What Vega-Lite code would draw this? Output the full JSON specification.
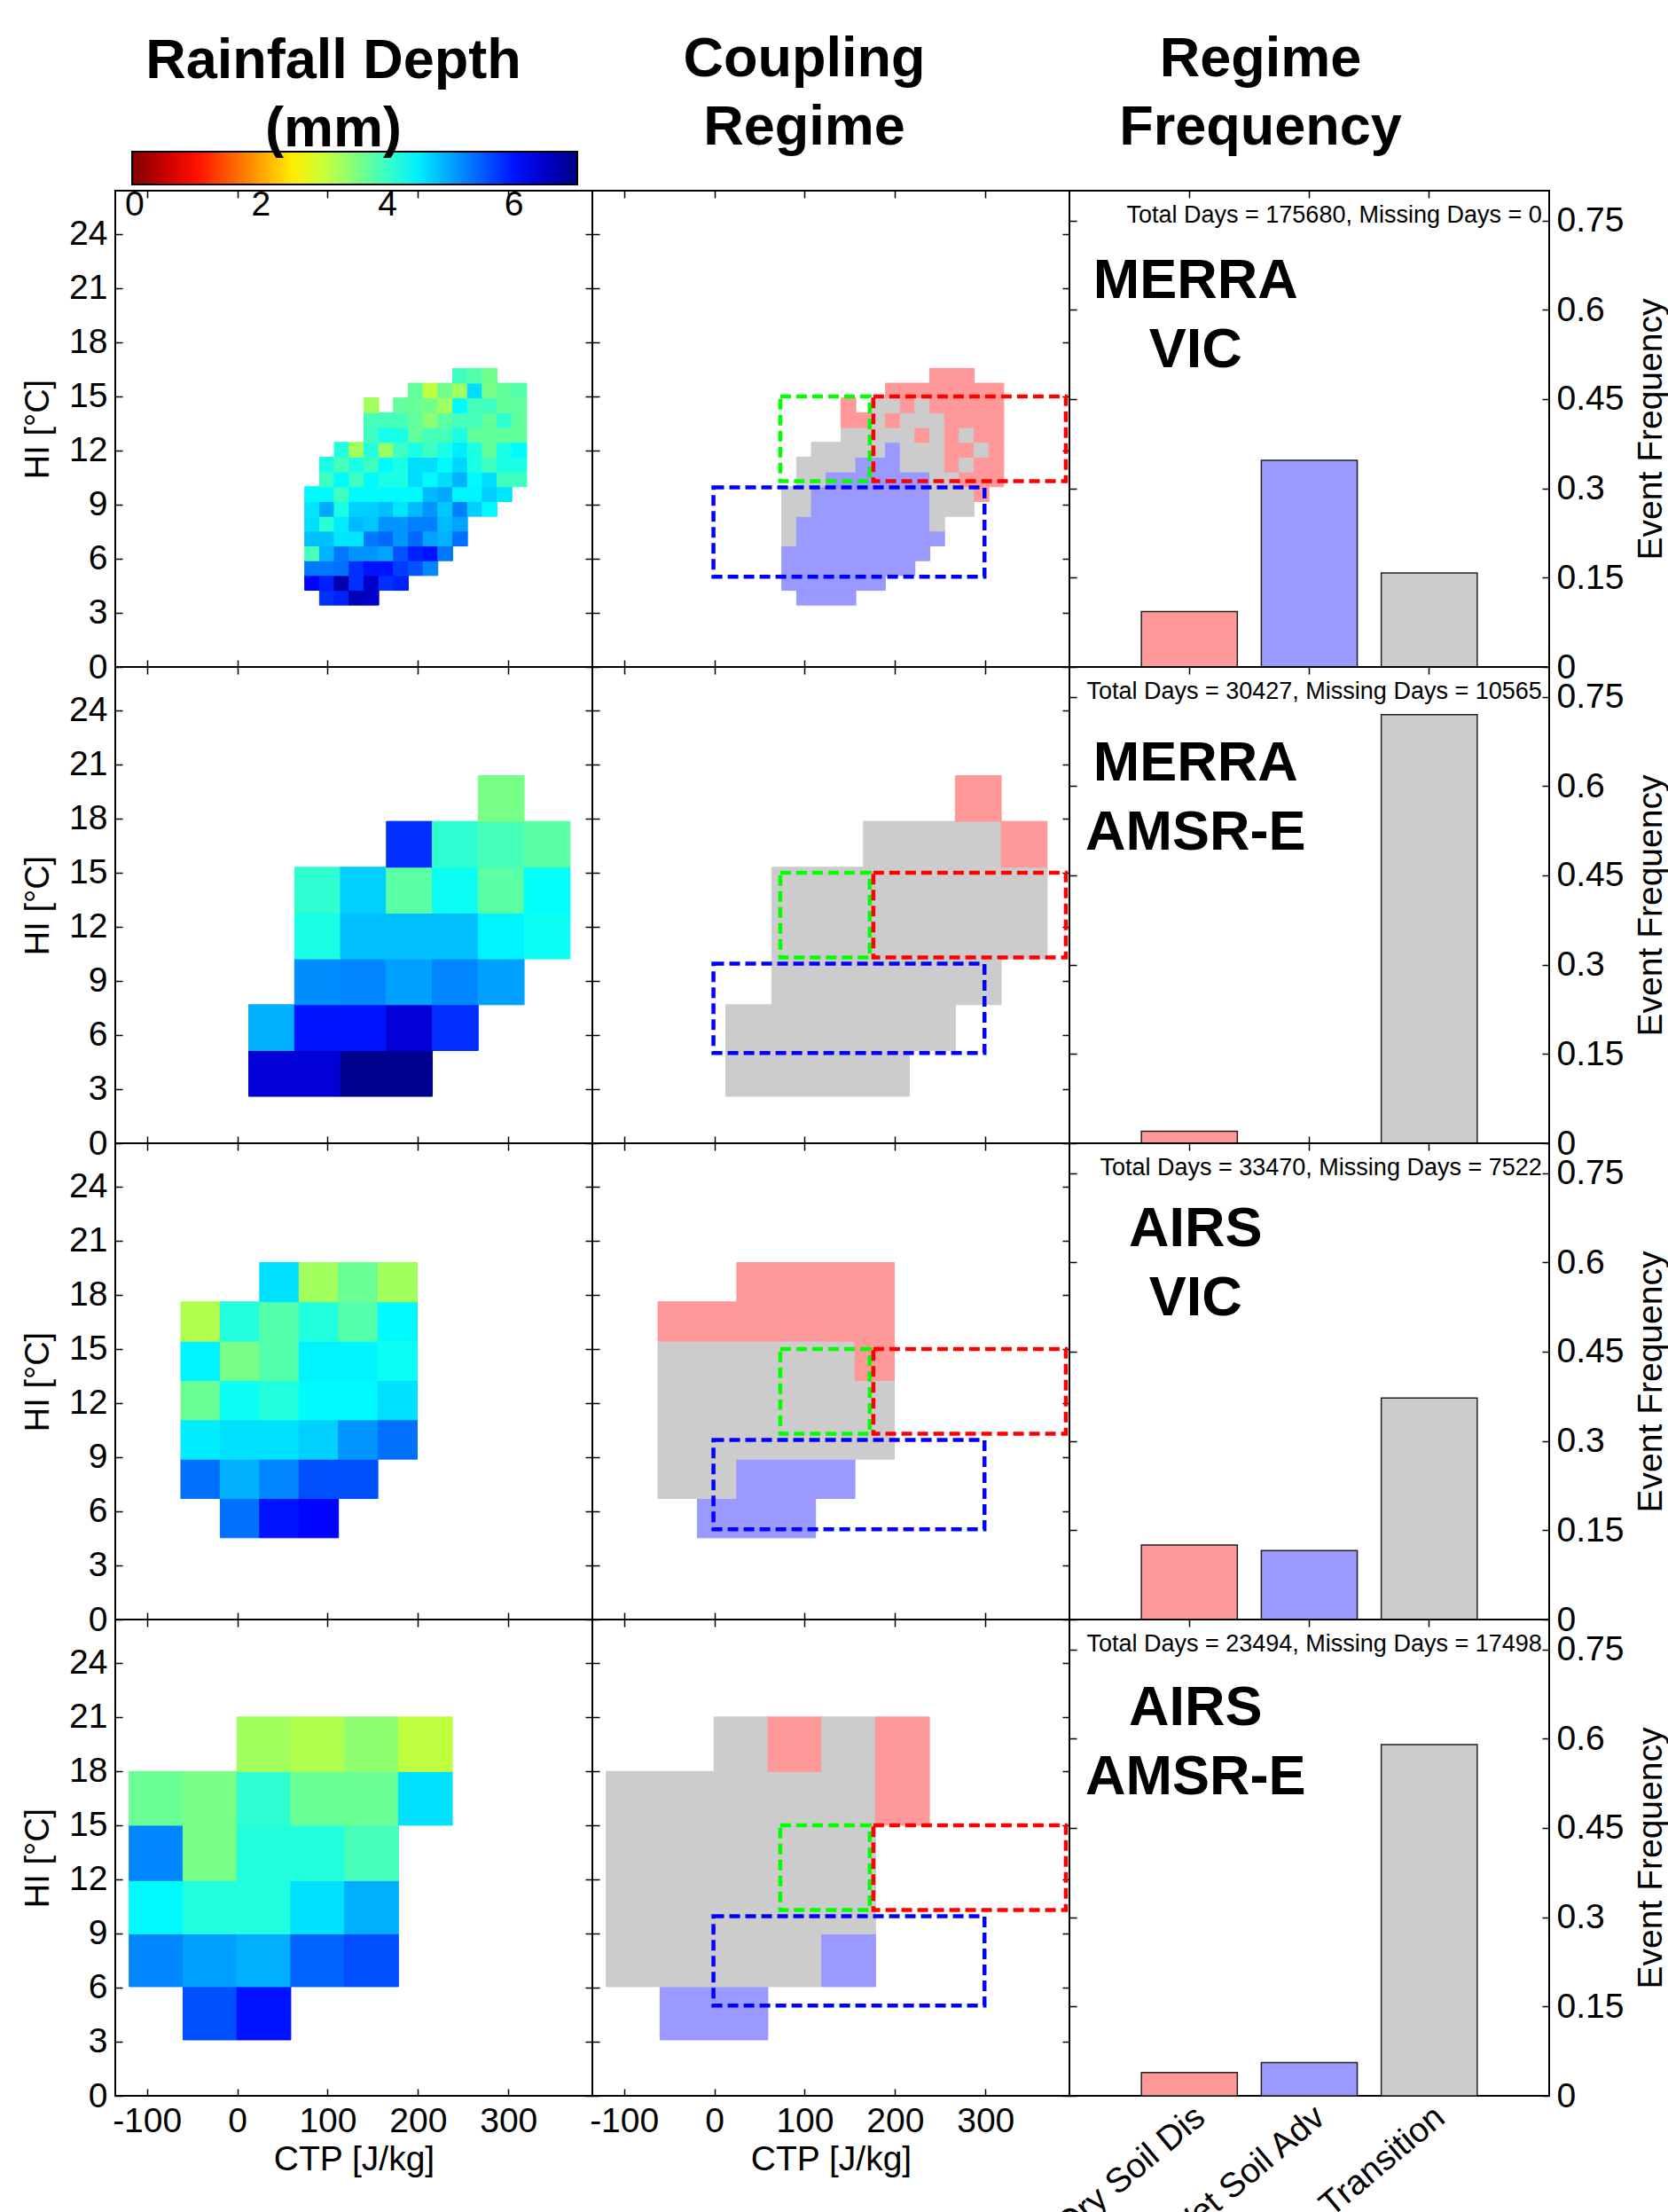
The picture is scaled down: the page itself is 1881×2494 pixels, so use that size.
{
"$schema":"https://vega.github.io/schema/vega-lite/v6.json",
"autosize":{"type":"none"},
"padding":{"left":130,"top":215,"right":1751,"bottom":2279},
"background":"white",
"config":{
 "font":"Liberation Sans",
 "view":{"stroke":"black","strokeWidth":2},
 "axis":{"domain":false,"grid":false,"tickColor":"black","tickWidth":1.5,"tickSize":-8,"labelFont":"Liberation Sans","labelFontSize":39,"labelColor":"black","labelPadding":17,"labelLimit":0,"titleFont":"Liberation Sans","titleFontSize":39,"titleFontWeight":"normal","titleColor":"black","zindex":1,"labelOverlap":false,"labelFlush":false,"labelBound":false},
 "title":{"font":"Liberation Sans","fontSize":63,"fontWeight":"bold","color":"black","lineHeight":77,"anchor":"middle","frame":"group","baseline":"bottom","offset":38}
},
"datasets":{
"boxes":[{"a":73,"b":172,"c":10.3,"d":15,"r":"Transition"},{"a":176,"b":389,"c":10.3,"d":15,"r":"Dry Soil Dis"},{"a":-1,"b":299,"c":5,"d":9.95,"r":"Wet Soil Adv"}],
"rain1":[
{"a":91.1,"b":107.4,"c":3.43,"d":4.25,"v":5.8},{"a":107.4,"b":123.8,"c":3.43,"d":4.25,"v":5.9},{"a":123.8,"b":140.2,"c":3.43,"d":4.25,"v":6.6},{"a":140.2,"b":156.6,"c":3.43,"d":4.25,"v":6.5},
{"a":74.7,"b":91.1,"c":4.25,"d":5.07,"v":6.1},{"a":91.1,"b":107.4,"c":4.25,"d":5.07,"v":5.9},{"a":107.4,"b":123.8,"c":4.25,"d":5.07,"v":6.7},{"a":123.8,"b":140.2,"c":4.25,"d":5.07,"v":5.8},{"a":140.2,"b":156.6,"c":4.25,"d":5.07,"v":6.5},{"a":156.6,"b":172.9,"c":4.25,"d":5.07,"v":5.8},{"a":172.9,"b":189.3,"c":4.25,"d":5.07,"v":5.9},
{"a":74.7,"b":91.1,"c":5.07,"d":5.89,"v":5.3},{"a":91.1,"b":107.4,"c":5.07,"d":5.89,"v":5.3},{"a":107.4,"b":123.8,"c":5.07,"d":5.89,"v":5.35},{"a":123.8,"b":140.2,"c":5.07,"d":5.89,"v":5.8},{"a":140.2,"b":156.6,"c":5.07,"d":5.89,"v":6.0},{"a":156.6,"b":172.9,"c":5.07,"d":5.89,"v":6.0},{"a":172.9,"b":189.3,"c":5.07,"d":5.89,"v":5.7},{"a":189.3,"b":205.7,"c":5.07,"d":5.89,"v":5.55},{"a":205.7,"b":222,"c":5.07,"d":5.89,"v":5.2},
{"a":74.7,"b":91.1,"c":5.89,"d":6.71,"v":3.9},{"a":91.1,"b":107.4,"c":5.89,"d":6.71,"v":4.9},{"a":107.4,"b":123.8,"c":5.89,"d":6.71,"v":5.3},{"a":123.8,"b":140.2,"c":5.89,"d":6.71,"v":5.1},{"a":140.2,"b":156.6,"c":5.89,"d":6.71,"v":5.1},{"a":156.6,"b":172.9,"c":5.89,"d":6.71,"v":5.0},{"a":172.9,"b":189.3,"c":5.89,"d":6.71,"v":5.55},{"a":189.3,"b":205.7,"c":5.89,"d":6.71,"v":5.9},{"a":205.7,"b":222,"c":5.89,"d":6.71,"v":6.0},{"a":222,"b":238.4,"c":5.89,"d":6.71,"v":5.3},
{"a":74.7,"b":91.1,"c":6.71,"d":7.53,"v":4.8},{"a":91.1,"b":107.4,"c":6.71,"d":7.53,"v":4.8},{"a":107.4,"b":123.8,"c":6.71,"d":7.53,"v":4.55},{"a":123.8,"b":140.2,"c":6.71,"d":7.53,"v":4.55},{"a":140.2,"b":156.6,"c":6.71,"d":7.53,"v":5.3},{"a":156.6,"b":172.9,"c":6.71,"d":7.53,"v":5.4},{"a":172.9,"b":189.3,"c":6.71,"d":7.53,"v":5.1},{"a":189.3,"b":205.7,"c":6.71,"d":7.53,"v":5.4},{"a":205.7,"b":222,"c":6.71,"d":7.53,"v":5.0},{"a":222,"b":238.4,"c":6.71,"d":7.53,"v":4.9},{"a":238.4,"b":254.8,"c":6.71,"d":7.53,"v":5.35},
{"a":74.7,"b":91.1,"c":7.53,"d":8.35,"v":4.6},{"a":91.1,"b":107.4,"c":7.53,"d":8.35,"v":4.1},{"a":107.4,"b":123.8,"c":7.53,"d":8.35,"v":4.5},{"a":123.8,"b":140.2,"c":7.53,"d":8.35,"v":4.85},{"a":140.2,"b":156.6,"c":7.53,"d":8.35,"v":4.75},{"a":156.6,"b":172.9,"c":7.53,"d":8.35,"v":5.1},{"a":172.9,"b":189.3,"c":7.53,"d":8.35,"v":5.1},{"a":189.3,"b":205.7,"c":7.53,"d":8.35,"v":5.25},{"a":205.7,"b":222,"c":7.53,"d":8.35,"v":5.25},{"a":222,"b":238.4,"c":7.53,"d":8.35,"v":4.85},{"a":238.4,"b":254.8,"c":7.53,"d":8.35,"v":5.0},
{"a":74.7,"b":91.1,"c":8.35,"d":9.17,"v":4.55},{"a":91.1,"b":107.4,"c":8.35,"d":9.17,"v":4.95},{"a":107.4,"b":123.8,"c":8.35,"d":9.17,"v":4.2},{"a":123.8,"b":140.2,"c":8.35,"d":9.17,"v":4.7},{"a":140.2,"b":156.6,"c":8.35,"d":9.17,"v":4.7},{"a":156.6,"b":172.9,"c":8.35,"d":9.17,"v":4.8},{"a":172.9,"b":189.3,"c":8.35,"d":9.17,"v":4.55},{"a":189.3,"b":205.7,"c":8.35,"d":9.17,"v":4.85},{"a":205.7,"b":222,"c":8.35,"d":9.17,"v":5.1},{"a":222,"b":238.4,"c":8.35,"d":9.17,"v":4.75},{"a":238.4,"b":254.8,"c":8.35,"d":9.17,"v":5.25},{"a":254.8,"b":271.1,"c":8.35,"d":9.17,"v":4.7},{"a":271.1,"b":287.5,"c":8.35,"d":9.17,"v":4.4},
{"a":74.7,"b":91.1,"c":9.17,"d":9.99,"v":4.4},{"a":91.1,"b":107.4,"c":9.17,"d":9.99,"v":4.4},{"a":107.4,"b":123.8,"c":9.17,"d":9.99,"v":3.95},{"a":123.8,"b":140.2,"c":9.17,"d":9.99,"v":4.4},{"a":140.2,"b":156.6,"c":9.17,"d":9.99,"v":4.4},{"a":156.6,"b":172.9,"c":9.17,"d":9.99,"v":4.4},{"a":172.9,"b":189.3,"c":9.17,"d":9.99,"v":4.4},{"a":189.3,"b":205.7,"c":9.17,"d":9.99,"v":4.4},{"a":205.7,"b":222,"c":9.17,"d":9.99,"v":4.85},{"a":222,"b":238.4,"c":9.17,"d":9.99,"v":4.95},{"a":238.4,"b":254.8,"c":9.17,"d":9.99,"v":4.45},{"a":254.8,"b":271.1,"c":9.17,"d":9.99,"v":4.45},{"a":271.1,"b":287.5,"c":9.17,"d":9.99,"v":4.7},{"a":287.5,"b":303.9,"c":9.17,"d":9.99,"v":4.55},
{"a":91.1,"b":107.4,"c":9.99,"d":10.81,"v":3.95},{"a":107.4,"b":123.8,"c":9.99,"d":10.81,"v":4.4},{"a":123.8,"b":140.2,"c":9.99,"d":10.81,"v":3.95},{"a":140.2,"b":156.6,"c":9.99,"d":10.81,"v":4.4},{"a":156.6,"b":172.9,"c":9.99,"d":10.81,"v":4.2},{"a":172.9,"b":189.3,"c":9.99,"d":10.81,"v":4.2},{"a":189.3,"b":205.7,"c":9.99,"d":10.81,"v":4.6},{"a":205.7,"b":222,"c":9.99,"d":10.81,"v":4.4},{"a":222,"b":238.4,"c":9.99,"d":10.81,"v":4.6},{"a":238.4,"b":254.8,"c":9.99,"d":10.81,"v":4.9},{"a":254.8,"b":271.1,"c":9.99,"d":10.81,"v":4.4},{"a":271.1,"b":287.5,"c":9.99,"d":10.81,"v":4.6},{"a":287.5,"b":303.9,"c":9.99,"d":10.81,"v":3.95},{"a":303.9,"b":320.3,"c":9.99,"d":10.81,"v":3.95},
{"a":91.1,"b":107.4,"c":10.81,"d":11.63,"v":4.2},{"a":107.4,"b":123.8,"c":10.81,"d":11.63,"v":3.9},{"a":123.8,"b":140.2,"c":10.81,"d":11.63,"v":4.2},{"a":140.2,"b":156.6,"c":10.81,"d":11.63,"v":3.95},{"a":156.6,"b":172.9,"c":10.81,"d":11.63,"v":4.4},{"a":172.9,"b":189.3,"c":10.81,"d":11.63,"v":4.2},{"a":189.3,"b":205.7,"c":10.81,"d":11.63,"v":4.6},{"a":205.7,"b":222,"c":10.81,"d":11.63,"v":4.6},{"a":222,"b":238.4,"c":10.81,"d":11.63,"v":4.4},{"a":238.4,"b":254.8,"c":10.81,"d":11.63,"v":4.65},{"a":254.8,"b":271.1,"c":10.81,"d":11.63,"v":4.2},{"a":271.1,"b":287.5,"c":10.81,"d":11.63,"v":3.95},{"a":287.5,"b":303.9,"c":10.81,"d":11.63,"v":4.2},{"a":303.9,"b":320.3,"c":10.81,"d":11.63,"v":4.2},
{"a":107.4,"b":123.8,"c":11.63,"d":12.45,"v":4.15},{"a":123.8,"b":140.2,"c":11.63,"d":12.45,"v":3.27},{"a":140.2,"b":156.6,"c":11.63,"d":12.45,"v":4.15},{"a":156.6,"b":172.9,"c":11.63,"d":12.45,"v":3.33},{"a":172.9,"b":189.3,"c":11.63,"d":12.45,"v":3.95},{"a":189.3,"b":205.7,"c":11.63,"d":12.45,"v":4.2},{"a":205.7,"b":222,"c":11.63,"d":12.45,"v":3.95},{"a":222,"b":238.4,"c":11.63,"d":12.45,"v":4.2},{"a":238.4,"b":254.8,"c":11.63,"d":12.45,"v":4.5},{"a":254.8,"b":271.1,"c":11.63,"d":12.45,"v":4.2},{"a":271.1,"b":287.5,"c":11.63,"d":12.45,"v":3.7},{"a":287.5,"b":303.9,"c":11.63,"d":12.45,"v":4.2},{"a":303.9,"b":320.3,"c":11.63,"d":12.45,"v":4.4},
{"a":140.2,"b":156.6,"c":12.45,"d":13.27,"v":3.95},{"a":156.6,"b":172.9,"c":12.45,"d":13.27,"v":4.25},{"a":172.9,"b":189.3,"c":12.45,"d":13.27,"v":4.2},{"a":189.3,"b":205.7,"c":12.45,"d":13.27,"v":3.7},{"a":205.7,"b":222,"c":12.45,"d":13.27,"v":3.9},{"a":222,"b":238.4,"c":12.45,"d":13.27,"v":3.9},{"a":238.4,"b":254.8,"c":12.45,"d":13.27,"v":4.2},{"a":254.8,"b":271.1,"c":12.45,"d":13.27,"v":3.7},{"a":271.1,"b":287.5,"c":12.45,"d":13.27,"v":3.7},{"a":287.5,"b":303.9,"c":12.45,"d":13.27,"v":3.7},{"a":303.9,"b":320.3,"c":12.45,"d":13.27,"v":3.7},
{"a":140.2,"b":156.6,"c":13.27,"d":14.09,"v":3.9},{"a":156.6,"b":172.9,"c":13.27,"d":14.09,"v":3.9},{"a":172.9,"b":189.3,"c":13.27,"d":14.09,"v":3.9},{"a":189.3,"b":205.7,"c":13.27,"d":14.09,"v":3.7},{"a":205.7,"b":222,"c":13.27,"d":14.09,"v":3.4},{"a":222,"b":238.4,"c":13.27,"d":14.09,"v":3.75},{"a":238.4,"b":254.8,"c":13.27,"d":14.09,"v":3.9},{"a":254.8,"b":271.1,"c":13.27,"d":14.09,"v":3.9},{"a":271.1,"b":287.5,"c":13.27,"d":14.09,"v":3.7},{"a":287.5,"b":303.9,"c":13.27,"d":14.09,"v":4.05},{"a":303.9,"b":320.3,"c":13.27,"d":14.09,"v":3.7},
{"a":140.2,"b":156.6,"c":14.09,"d":14.91,"v":3.27},{"a":172.9,"b":189.3,"c":14.09,"d":14.91,"v":3.7},{"a":189.3,"b":205.7,"c":14.09,"d":14.91,"v":3.65},{"a":205.7,"b":222,"c":14.09,"d":14.91,"v":3.6},{"a":222,"b":238.4,"c":14.09,"d":14.91,"v":3.27},{"a":238.4,"b":254.8,"c":14.09,"d":14.91,"v":4.4},{"a":254.8,"b":271.1,"c":14.09,"d":14.91,"v":3.9},{"a":271.1,"b":287.5,"c":14.09,"d":14.91,"v":3.95},{"a":287.5,"b":303.9,"c":14.09,"d":14.91,"v":3.7},{"a":303.9,"b":320.3,"c":14.09,"d":14.91,"v":3.7},
{"a":189.3,"b":205.7,"c":14.91,"d":15.73,"v":3.7},{"a":205.7,"b":222,"c":14.91,"d":15.73,"v":3.06},{"a":222,"b":238.4,"c":14.91,"d":15.73,"v":3.6},{"a":238.4,"b":254.8,"c":14.91,"d":15.73,"v":3.27},{"a":254.8,"b":271.1,"c":14.91,"d":15.73,"v":4.6},{"a":271.1,"b":287.5,"c":14.91,"d":15.73,"v":3.55},{"a":287.5,"b":303.9,"c":14.91,"d":15.73,"v":3.7},{"a":303.9,"b":320.3,"c":14.91,"d":15.73,"v":3.8},
{"a":238.4,"b":254.8,"c":15.73,"d":16.55,"v":3.95},{"a":254.8,"b":271.1,"c":15.73,"d":16.55,"v":3.8},{"a":271.1,"b":287.5,"c":15.73,"d":16.55,"v":3.6}
],
"reg1":[
{"a":91.1,"b":156.6,"c":3.43,"d":4.25,"r":"Wet Soil Adv"},
{"a":74.7,"b":189.3,"c":4.25,"d":5.07,"r":"Wet Soil Adv"},
{"a":74.7,"b":222,"c":5.07,"d":5.89,"r":"Wet Soil Adv"},
{"a":74.7,"b":238.4,"c":5.89,"d":6.71,"r":"Wet Soil Adv"},
{"a":74.7,"b":91.1,"c":6.71,"d":7.53,"r":"Transition"},{"a":91.1,"b":254.8,"c":6.71,"d":7.53,"r":"Wet Soil Adv"},
{"a":74.7,"b":91.1,"c":7.53,"d":8.35,"r":"Transition"},{"a":91.1,"b":238.4,"c":7.53,"d":8.35,"r":"Wet Soil Adv"},{"a":238.4,"b":254.8,"c":7.53,"d":8.35,"r":"Transition"},
{"a":74.7,"b":107.4,"c":8.35,"d":9.17,"r":"Transition"},{"a":107.4,"b":238.4,"c":8.35,"d":9.17,"r":"Wet Soil Adv"},{"a":238.4,"b":287.5,"c":8.35,"d":9.17,"r":"Transition"},
{"a":74.7,"b":107.4,"c":9.17,"d":9.99,"r":"Transition"},{"a":107.4,"b":238.4,"c":9.17,"d":9.99,"r":"Wet Soil Adv"},{"a":238.4,"b":287.5,"c":9.17,"d":9.99,"r":"Transition"},{"a":287.5,"b":303.9,"c":9.17,"d":9.99,"r":"Dry Soil Dis"},
{"a":91.1,"b":123.8,"c":9.99,"d":10.81,"r":"Transition"},{"a":123.8,"b":238.4,"c":9.99,"d":10.81,"r":"Wet Soil Adv"},{"a":238.4,"b":271.1,"c":9.99,"d":10.81,"r":"Transition"},{"a":271.1,"b":320.3,"c":9.99,"d":10.81,"r":"Dry Soil Dis"},
{"a":91.1,"b":156.6,"c":10.81,"d":11.63,"r":"Transition"},{"a":156.6,"b":205.7,"c":10.81,"d":11.63,"r":"Wet Soil Adv"},{"a":205.7,"b":254.8,"c":10.81,"d":11.63,"r":"Transition"},{"a":254.8,"b":271.1,"c":10.81,"d":11.63,"r":"Dry Soil Dis"},{"a":271.1,"b":287.5,"c":10.81,"d":11.63,"r":"Transition"},{"a":287.5,"b":320.3,"c":10.81,"d":11.63,"r":"Dry Soil Dis"},
{"a":107.4,"b":189.3,"c":11.63,"d":12.45,"r":"Transition"},{"a":189.3,"b":205.7,"c":11.63,"d":12.45,"r":"Wet Soil Adv"},{"a":205.7,"b":254.8,"c":11.63,"d":12.45,"r":"Transition"},{"a":254.8,"b":287.5,"c":11.63,"d":12.45,"r":"Dry Soil Dis"},{"a":287.5,"b":303.9,"c":11.63,"d":12.45,"r":"Transition"},{"a":303.9,"b":320.3,"c":11.63,"d":12.45,"r":"Dry Soil Dis"},
{"a":140.2,"b":222,"c":12.45,"d":13.27,"r":"Transition"},{"a":222,"b":238.4,"c":12.45,"d":13.27,"r":"Dry Soil Dis"},{"a":238.4,"b":254.8,"c":12.45,"d":13.27,"r":"Transition"},{"a":254.8,"b":271.1,"c":12.45,"d":13.27,"r":"Dry Soil Dis"},{"a":271.1,"b":287.5,"c":12.45,"d":13.27,"r":"Transition"},{"a":287.5,"b":320.3,"c":12.45,"d":13.27,"r":"Dry Soil Dis"},
{"a":140.2,"b":172.9,"c":13.27,"d":14.09,"r":"Dry Soil Dis"},{"a":172.9,"b":189.3,"c":13.27,"d":14.09,"r":"Transition"},{"a":189.3,"b":205.7,"c":13.27,"d":14.09,"r":"Dry Soil Dis"},{"a":205.7,"b":254.8,"c":13.27,"d":14.09,"r":"Transition"},{"a":254.8,"b":320.3,"c":13.27,"d":14.09,"r":"Dry Soil Dis"},
{"a":140.2,"b":156.6,"c":14.09,"d":14.91,"r":"Dry Soil Dis"},{"a":172.9,"b":205.7,"c":14.09,"d":14.91,"r":"Transition"},{"a":205.7,"b":222,"c":14.09,"d":14.91,"r":"Dry Soil Dis"},{"a":222,"b":238.4,"c":14.09,"d":14.91,"r":"Transition"},{"a":238.4,"b":320.3,"c":14.09,"d":14.91,"r":"Dry Soil Dis"},
{"a":189.3,"b":320.3,"c":14.91,"d":15.73,"r":"Dry Soil Dis"},
{"a":238.4,"b":287.5,"c":15.73,"d":16.55,"r":"Dry Soil Dis"}
],
"rain2":[
{"a":12.7,"b":63.5,"c":2.6,"d":5.14,"v":6.4},{"a":63.5,"b":114.3,"c":2.6,"d":5.14,"v":6.4},{"a":114.3,"b":165.1,"c":2.6,"d":5.14,"v":6.9},{"a":165.1,"b":215.9,"c":2.6,"d":5.14,"v":6.9},
{"a":12.7,"b":63.5,"c":5.14,"d":7.68,"v":4.92},{"a":63.5,"b":114.3,"c":5.14,"d":7.68,"v":6.0},{"a":114.3,"b":165.1,"c":5.14,"d":7.68,"v":6.0},{"a":165.1,"b":215.9,"c":5.14,"d":7.68,"v":6.4},{"a":215.9,"b":266.7,"c":5.14,"d":7.68,"v":5.8},
{"a":63.5,"b":114.3,"c":7.68,"d":10.22,"v":5.15},{"a":114.3,"b":165.1,"c":7.68,"d":10.22,"v":5.2},{"a":165.1,"b":215.9,"c":7.68,"d":10.22,"v":5.03},{"a":215.9,"b":266.7,"c":7.68,"d":10.22,"v":5.2},{"a":266.7,"b":317.5,"c":7.68,"d":10.22,"v":5.03},
{"a":63.5,"b":114.3,"c":10.22,"d":12.76,"v":4.2},{"a":114.3,"b":165.1,"c":10.22,"d":12.76,"v":4.81},{"a":165.1,"b":215.9,"c":10.22,"d":12.76,"v":4.81},{"a":215.9,"b":266.7,"c":10.22,"d":12.76,"v":4.81},{"a":266.7,"b":317.5,"c":10.22,"d":12.76,"v":4.45},{"a":317.5,"b":368.3,"c":10.22,"d":12.76,"v":4.3},
{"a":63.5,"b":114.3,"c":12.76,"d":15.3,"v":4.05},{"a":114.3,"b":165.1,"c":12.76,"d":15.3,"v":4.7},{"a":165.1,"b":215.9,"c":12.76,"d":15.3,"v":3.75},{"a":215.9,"b":266.7,"c":12.76,"d":15.3,"v":4.3},{"a":266.7,"b":317.5,"c":12.76,"d":15.3,"v":3.75},{"a":317.5,"b":368.3,"c":12.76,"d":15.3,"v":4.35},
{"a":165.1,"b":215.9,"c":15.3,"d":17.84,"v":5.8},{"a":215.9,"b":266.7,"c":15.3,"d":17.84,"v":4.05},{"a":266.7,"b":317.5,"c":15.3,"d":17.84,"v":3.9},{"a":317.5,"b":368.3,"c":15.3,"d":17.84,"v":3.75},
{"a":266.7,"b":317.5,"c":17.84,"d":20.38,"v":3.55}
],
"reg2":[
{"a":12.7,"b":215.9,"c":2.6,"d":5.14,"r":"Transition"},
{"a":12.7,"b":266.7,"c":5.14,"d":7.68,"r":"Transition"},
{"a":63.5,"b":317.5,"c":7.68,"d":10.22,"r":"Transition"},
{"a":63.5,"b":368.3,"c":10.22,"d":12.76,"r":"Transition"},
{"a":63.5,"b":368.3,"c":12.76,"d":15.3,"r":"Transition"},
{"a":165.1,"b":317.5,"c":15.3,"d":17.84,"r":"Transition"},{"a":317.5,"b":368.3,"c":15.3,"d":17.84,"r":"Dry Soil Dis"},
{"a":266.7,"b":317.5,"c":17.84,"d":20.38,"r":"Dry Soil Dis"}
],
"rain3":[
{"a":-18.8,"b":24.8,"c":4.53,"d":6.71,"v":5.35},{"a":24.8,"b":68.4,"c":4.53,"d":6.71,"v":6.0},{"a":68.4,"b":112,"c":4.53,"d":6.71,"v":6.1},
{"a":-62.4,"b":-18.8,"c":6.71,"d":8.89,"v":5.35},{"a":-18.8,"b":24.8,"c":6.71,"d":8.89,"v":4.92},{"a":24.8,"b":68.4,"c":6.71,"d":8.89,"v":5.2},{"a":68.4,"b":112,"c":6.71,"d":8.89,"v":5.58},{"a":112,"b":155.6,"c":6.71,"d":8.89,"v":5.58},
{"a":-62.4,"b":-18.8,"c":8.89,"d":11.07,"v":4.5},{"a":-18.8,"b":24.8,"c":8.89,"d":11.07,"v":4.59},{"a":24.8,"b":68.4,"c":8.89,"d":11.07,"v":4.59},{"a":68.4,"b":112,"c":8.89,"d":11.07,"v":4.7},{"a":112,"b":155.6,"c":8.89,"d":11.07,"v":5.1},{"a":155.6,"b":199.2,"c":8.89,"d":11.07,"v":5.35},
{"a":-62.4,"b":-18.8,"c":11.07,"d":13.25,"v":3.65},{"a":-18.8,"b":24.8,"c":11.07,"d":13.25,"v":4.3},{"a":24.8,"b":68.4,"c":11.07,"d":13.25,"v":4.15},{"a":68.4,"b":112,"c":11.07,"d":13.25,"v":4.4},{"a":112,"b":155.6,"c":11.07,"d":13.25,"v":4.4},{"a":155.6,"b":199.2,"c":11.07,"d":13.25,"v":4.59},
{"a":-62.4,"b":-18.8,"c":13.25,"d":15.43,"v":4.45},{"a":-18.8,"b":24.8,"c":13.25,"d":15.43,"v":3.55},{"a":24.8,"b":68.4,"c":13.25,"d":15.43,"v":3.8},{"a":68.4,"b":112,"c":13.25,"d":15.43,"v":4.45},{"a":112,"b":155.6,"c":13.25,"d":15.43,"v":4.45},{"a":155.6,"b":199.2,"c":13.25,"d":15.43,"v":4.3},
{"a":-62.4,"b":-18.8,"c":15.43,"d":17.61,"v":3.17},{"a":-18.8,"b":24.8,"c":15.43,"d":17.61,"v":4.15},{"a":24.8,"b":68.4,"c":15.43,"d":17.61,"v":3.8},{"a":68.4,"b":112,"c":15.43,"d":17.61,"v":4.15},{"a":112,"b":155.6,"c":15.43,"d":17.61,"v":3.8},{"a":155.6,"b":199.2,"c":15.43,"d":17.61,"v":4.4},
{"a":24.8,"b":68.4,"c":17.61,"d":19.79,"v":4.59},{"a":68.4,"b":112,"c":17.61,"d":19.79,"v":3.27},{"a":112,"b":155.6,"c":17.61,"d":19.79,"v":3.65},{"a":155.6,"b":199.2,"c":17.61,"d":19.79,"v":3.27}
],
"reg3":[
{"a":-18.8,"b":112,"c":4.53,"d":6.71,"r":"Wet Soil Adv"},
{"a":-62.4,"b":24.8,"c":6.71,"d":8.89,"r":"Transition"},{"a":24.8,"b":155.6,"c":6.71,"d":8.89,"r":"Wet Soil Adv"},
{"a":-62.4,"b":199.2,"c":8.89,"d":11.07,"r":"Transition"},
{"a":-62.4,"b":199.2,"c":11.07,"d":13.25,"r":"Transition"},
{"a":-62.4,"b":155.6,"c":13.25,"d":15.43,"r":"Transition"},{"a":155.6,"b":199.2,"c":13.25,"d":15.43,"r":"Dry Soil Dis"},
{"a":-62.4,"b":199.2,"c":15.43,"d":17.61,"r":"Dry Soil Dis"},
{"a":24.8,"b":199.2,"c":17.61,"d":19.79,"r":"Dry Soil Dis"}
],
"rain4":[
{"a":-60,"b":-0.4,"c":3.1,"d":6.05,"v":5.58},{"a":-0.4,"b":59.2,"c":3.1,"d":6.05,"v":6.0},
{"a":-119.6,"b":-60,"c":6.05,"d":8.98,"v":5.2},{"a":-60,"b":-0.4,"c":6.05,"d":8.98,"v":5.03},{"a":-0.4,"b":59.2,"c":6.05,"d":8.98,"v":4.92},{"a":59.2,"b":118.8,"c":6.05,"d":8.98,"v":5.45},{"a":118.8,"b":178.4,"c":6.05,"d":8.98,"v":5.58},
{"a":-119.6,"b":-60,"c":8.98,"d":11.93,"v":4.4},{"a":-60,"b":-0.4,"c":8.98,"d":11.93,"v":4.15},{"a":-0.4,"b":59.2,"c":8.98,"d":11.93,"v":4.15},{"a":59.2,"b":118.8,"c":8.98,"d":11.93,"v":4.59},{"a":118.8,"b":178.4,"c":8.98,"d":11.93,"v":4.92},
{"a":-119.6,"b":-60,"c":11.93,"d":15.0,"v":5.2},{"a":-60,"b":-0.4,"c":11.93,"d":15.0,"v":3.55},{"a":-0.4,"b":59.2,"c":11.93,"d":15.0,"v":4.15},{"a":59.2,"b":118.8,"c":11.93,"d":15.0,"v":4.15},{"a":118.8,"b":178.4,"c":11.93,"d":15.0,"v":3.9},
{"a":-119.6,"b":-60,"c":15.0,"d":17.98,"v":3.65},{"a":-60,"b":-0.4,"c":15.0,"d":17.98,"v":3.55},{"a":-0.4,"b":59.2,"c":15.0,"d":17.98,"v":4.05},{"a":59.2,"b":118.8,"c":15.0,"d":17.98,"v":3.65},{"a":118.8,"b":178.4,"c":15.0,"d":17.98,"v":3.65},{"a":178.4,"b":238,"c":15.0,"d":17.98,"v":4.59},
{"a":-0.4,"b":59.2,"c":17.98,"d":21.0,"v":3.27},{"a":59.2,"b":118.8,"c":17.98,"d":21.0,"v":3.17},{"a":118.8,"b":178.4,"c":17.98,"d":21.0,"v":3.39},{"a":178.4,"b":238,"c":17.98,"d":21.0,"v":3.06}
],
"reg4":[
{"a":-60,"b":59.2,"c":3.1,"d":6.05,"r":"Wet Soil Adv"},
{"a":-119.6,"b":118.8,"c":6.05,"d":8.98,"r":"Transition"},{"a":118.8,"b":178.4,"c":6.05,"d":8.98,"r":"Wet Soil Adv"},
{"a":-119.6,"b":178.4,"c":8.98,"d":11.93,"r":"Transition"},
{"a":-119.6,"b":178.4,"c":11.93,"d":15.0,"r":"Transition"},
{"a":-119.6,"b":178.4,"c":15.0,"d":17.98,"r":"Transition"},{"a":178.4,"b":238,"c":15.0,"d":17.98,"r":"Dry Soil Dis"},
{"a":-0.4,"b":59.2,"c":17.98,"d":21.0,"r":"Transition"},{"a":59.2,"b":118.8,"c":17.98,"d":21.0,"r":"Dry Soil Dis"},{"a":118.8,"b":178.4,"c":17.98,"d":21.0,"r":"Transition"},{"a":178.4,"b":238,"c":17.98,"d":21.0,"r":"Dry Soil Dis"}
],
"bars1":[{"cat":"Dry Soil Dis","f":0.093},{"cat":"Wet Soil Adv","f":0.347},{"cat":"Transition","f":0.158}],
"bars2":[{"cat":"Dry Soil Dis","f":0.02},{"cat":"Wet Soil Adv","f":0},{"cat":"Transition","f":0.72}],
"bars3":[{"cat":"Dry Soil Dis","f":0.125},{"cat":"Wet Soil Adv","f":0.116},{"cat":"Transition","f":0.372}],
"bars4":[{"cat":"Dry Soil Dis","f":0.039},{"cat":"Wet Soil Adv","f":0.056},{"cat":"Transition","f":0.59}],
"lab1":[{"cat":"Dry Soil Dis","f":0.694,"t":"MERRA\nVIC"}],
"lab2":[{"cat":"Dry Soil Dis","f":0.684,"t":"MERRA\nAMSR-E"}],
"lab3":[{"cat":"Dry Soil Dis","f":0.702,"t":"AIRS\nVIC"}],
"lab4":[{"cat":"Dry Soil Dis","f":0.697,"t":"AIRS\nAMSR-E"}],
"days1":[{"cat":"Transition","f":0.759,"t":"Total Days = 175680, Missing Days = 0"}],
"days2":[{"cat":"Transition","f":0.759,"t":"Total Days = 30427, Missing Days = 10565"}],
"days3":[{"cat":"Transition","f":0.759,"t":"Total Days = 33470, Missing Days = 7522"}],
"days4":[{"cat":"Transition","f":0.759,"t":"Total Days = 23494, Missing Days = 17498"}]
},
"columns":3,
"spacing":0,
"bounds":"flush",
"resolve":{"scale":{"color":"independent","stroke":"independent"}},
"concat":[
 {"width":538,"height":537,"title":{"text":["Rainfall Depth","(mm)"],"dx":-23,"dy":45},
  "layer":[
   {"data":{"name":"rain1"},"mark":{"type":"rect","strokeWidth":1},
    "encoding":{
     "x":{"field":"a","type":"quantitative","scale":{"domain":[-135,393],"nice":false,"zero":false},"axis":{"orient":"bottom","values":[-100,0,100,200,300],"labels":false,"title":null}},
     "x2":{"field":"b"},
     "y":{"field":"c","type":"quantitative","scale":{"domain":[0,26.4],"nice":false,"zero":false},"axis":{"orient":"left","values":[0,3,6,9,12,15,18,21,24],"title":"HI [°C]","titleFontSize":38,"titlePadding":15}},
     "y2":{"field":"d"},
     "color":{"field":"v","type":"quantitative","scale":{"domain":[-0.04,0.875,2.625,4.375,6.125,7],"range":["#800000","#ff0000","#ffff00","#00ffff","#0000ff","#000080"],"interpolate":"rgb"},
      "legend":{"type":"gradient","orient":"none","legendX":19,"legendY":-44,"direction":"horizontal","gradientLength":502,"gradientThickness":37,"title":null,"values":[0,2,4,6],"format":"d","labelFontSize":39,"labelFont":"Liberation Sans","labelColor":"black","gradientStrokeColor":"black","gradientStrokeWidth":2,"labelOffset":4,"labelAlign":"center","labelOverlap":false,"padding":0}},
     "stroke":{"field":"v","type":"quantitative","scale":{"domain":[-0.041,0.875,2.625,4.375,6.125,7.001],"range":["#800000","#ff0000","#ffff00","#00ffff","#0000ff","#000080"],"interpolate":"rgb"},"legend":null}
    }},
   {"data":{"name":"boxes"},"mark":{"type":"rect","opacity":0},
    "encoding":{
     "x":{"field":"a","type":"quantitative","axis":{"orient":"top","values":[-100,0,100,200,300],"labels":false,"title":null}},
     "x2":{"field":"b"},
     "y":{"field":"c","type":"quantitative","axis":{"orient":"right","values":[0,3,6,9,12,15,18,21,24],"labels":false,"title":null}},
     "y2":{"field":"d"}
    }}
  ],
  "resolve":{"axis":{"x":"independent","y":"independent"}}},
 {"width":538,"height":537,"title":{"text":["Coupling","Regime"],"dx":-30},
  "layer":[
   {"data":{"name":"reg1"},"mark":{"type":"rect","strokeWidth":1},
    "encoding":{
     "x":{"field":"a","type":"quantitative","scale":{"domain":[-135,393],"nice":false,"zero":false},"axis":{"orient":"bottom","values":[-100,0,100,200,300],"labels":false,"title":null}},
     "x2":{"field":"b"},
     "y":{"field":"c","type":"quantitative","scale":{"domain":[0,26.4],"nice":false,"zero":false},"axis":{"orient":"left","values":[0,3,6,9,12,15,18,21,24],"labels":false,"title":null}},
     "y2":{"field":"d"},
     "color":{"field":"r","type":"nominal","scale":{"domain":["Dry Soil Dis","Wet Soil Adv","Transition"],"range":["#ff9999","#9999ff","#cccccc"]},"legend":null},
     "stroke":{"field":"r","type":"nominal","scale":{"domain":["Dry Soil Dis","Wet Soil Adv","Transition"],"range":["#ff9999","#9999ff","#cccccc"]},"legend":null}
    }},
   {"data":{"name":"boxes"},"mark":{"type":"rect","filled":false,"strokeWidth":4.5,"strokeDash":[12,6]},
    "encoding":{
     "x":{"field":"a","type":"quantitative","axis":{"orient":"top","values":[-100,0,100,200,300],"labels":false,"title":null}},
     "x2":{"field":"b"},
     "y":{"field":"c","type":"quantitative","axis":{"orient":"right","values":[0,3,6,9,12,15,18,21,24],"labels":false,"title":null}},
     "y2":{"field":"d"},
     "stroke":{"field":"r","type":"nominal","scale":{"domain":["Dry Soil Dis","Wet Soil Adv","Transition"],"range":["#ff0000","#0000ff","#00ff00"]},"legend":null}
    }}
  ],
  "resolve":{"scale":{"stroke":"independent"},"axis":{"x":"independent","y":"independent"}}},
 {"width":541,"height":537,"title":{"text":["Regime","Frequency"],"dx":-55},
  "layer":[
   {"data":{"name":"bars1"},"mark":{"type":"bar","stroke":"#222222","strokeWidth":1.5},
    "encoding":{
     "x":{"field":"cat","type":"nominal","scale":{"domain":["Dry Soil Dis","Wet Soil Adv","Transition"],"paddingInner":0.2,"paddingOuter":0.6},"axis":{"orient":"bottom","labels":false,"title":null}},
     "y":{"field":"f","type":"quantitative","scale":{"domain":[0,0.8],"nice":false,"zero":true},"axis":{"orient":"right","values":[0,0.15,0.3,0.45,0.6,0.75],"format":".2~f","title":"Event Frequency","titleAngle":270,"titlePadding":51,"labelPadding":16}},
     "color":{"field":"cat","type":"nominal","scale":{"domain":["Dry Soil Dis","Wet Soil Adv","Transition"],"range":["#ff9999","#9999ff","#cccccc"]},"legend":null}
    }},
   {"data":{"name":"lab1"},"mark":{"type":"text","fontSize":63,"fontWeight":"bold","lineBreak":"\n","lineHeight":78,"align":"center","baseline":"top","dx":7,"color":"black"},
    "encoding":{
     "x":{"field":"cat","type":"nominal","axis":{"orient":"top","labels":false,"title":null}},
     "y":{"field":"f","type":"quantitative","axis":{"orient":"left","values":[0,0.15,0.3,0.45,0.6,0.75],"labels":false,"title":null}},
     "text":{"field":"t"}
    }},
   {"data":{"name":"days1"},"mark":{"type":"text","fontSize":27,"align":"right","baseline":"middle","dx":127,"color":"black"},
    "encoding":{
     "x":{"field":"cat","type":"nominal","axis":null},
     "y":{"field":"f","type":"quantitative","axis":null},
     "text":{"field":"t"}
    }}
  ],
  "resolve":{"axis":{"x":"independent","y":"independent"}}},
 {"width":538,"height":537,
  "layer":[
   {"data":{"name":"rain2"},"mark":{"type":"rect","strokeWidth":1},
    "encoding":{
     "x":{"field":"a","type":"quantitative","scale":{"domain":[-135,393],"nice":false,"zero":false},"axis":{"orient":"bottom","values":[-100,0,100,200,300],"labels":false,"title":null}},
     "x2":{"field":"b"},
     "y":{"field":"c","type":"quantitative","scale":{"domain":[0,26.4],"nice":false,"zero":false},"axis":{"orient":"left","values":[0,3,6,9,12,15,18,21,24],"title":"HI [°C]","titleFontSize":38,"titlePadding":15}},
     "y2":{"field":"d"},
     "color":{"field":"v","type":"quantitative","scale":{"domain":[-0.04,0.875,2.625,4.375,6.125,7],"range":["#800000","#ff0000","#ffff00","#00ffff","#0000ff","#000080"],"interpolate":"rgb"},"legend":null},
     "stroke":{"field":"v","type":"quantitative","scale":{"domain":[-0.04,0.875,2.625,4.375,6.125,7],"range":["#800000","#ff0000","#ffff00","#00ffff","#0000ff","#000080"],"interpolate":"rgb"},"legend":null}
    }},
   {"data":{"name":"boxes"},"mark":{"type":"rect","opacity":0},
    "encoding":{
     "x":{"field":"a","type":"quantitative","axis":{"orient":"top","values":[-100,0,100,200,300],"labels":false,"title":null}},
     "x2":{"field":"b"},
     "y":{"field":"c","type":"quantitative","axis":{"orient":"right","values":[0,3,6,9,12,15,18,21,24],"labels":false,"title":null}},
     "y2":{"field":"d"}
    }}
  ],
  "resolve":{"axis":{"x":"independent","y":"independent"}}},
 {"width":538,"height":537,
  "layer":[
   {"data":{"name":"reg2"},"mark":{"type":"rect","strokeWidth":1},
    "encoding":{
     "x":{"field":"a","type":"quantitative","scale":{"domain":[-135,393],"nice":false,"zero":false},"axis":{"orient":"bottom","values":[-100,0,100,200,300],"labels":false,"title":null}},
     "x2":{"field":"b"},
     "y":{"field":"c","type":"quantitative","scale":{"domain":[0,26.4],"nice":false,"zero":false},"axis":{"orient":"left","values":[0,3,6,9,12,15,18,21,24],"labels":false,"title":null}},
     "y2":{"field":"d"},
     "color":{"field":"r","type":"nominal","scale":{"domain":["Dry Soil Dis","Wet Soil Adv","Transition"],"range":["#ff9999","#9999ff","#cccccc"]},"legend":null},
     "stroke":{"field":"r","type":"nominal","scale":{"domain":["Dry Soil Dis","Wet Soil Adv","Transition"],"range":["#ff9999","#9999ff","#cccccc"]},"legend":null}
    }},
   {"data":{"name":"boxes"},"mark":{"type":"rect","filled":false,"strokeWidth":4.5,"strokeDash":[12,6]},
    "encoding":{
     "x":{"field":"a","type":"quantitative","axis":{"orient":"top","values":[-100,0,100,200,300],"labels":false,"title":null}},
     "x2":{"field":"b"},
     "y":{"field":"c","type":"quantitative","axis":{"orient":"right","values":[0,3,6,9,12,15,18,21,24],"labels":false,"title":null}},
     "y2":{"field":"d"},
     "stroke":{"field":"r","type":"nominal","scale":{"domain":["Dry Soil Dis","Wet Soil Adv","Transition"],"range":["#ff0000","#0000ff","#00ff00"]},"legend":null}
    }}
  ],
  "resolve":{"scale":{"stroke":"independent"},"axis":{"x":"independent","y":"independent"}}},
 {"width":541,"height":537,
  "layer":[
   {"data":{"name":"bars2"},"mark":{"type":"bar","stroke":"#222222","strokeWidth":1.5},
    "encoding":{
     "x":{"field":"cat","type":"nominal","scale":{"domain":["Dry Soil Dis","Wet Soil Adv","Transition"],"paddingInner":0.2,"paddingOuter":0.6},"axis":{"orient":"bottom","labels":false,"title":null}},
     "y":{"field":"f","type":"quantitative","scale":{"domain":[0,0.8],"nice":false,"zero":true},"axis":{"orient":"right","values":[0,0.15,0.3,0.45,0.6,0.75],"format":".2~f","title":"Event Frequency","titleAngle":270,"titlePadding":51,"labelPadding":16}},
     "color":{"field":"cat","type":"nominal","scale":{"domain":["Dry Soil Dis","Wet Soil Adv","Transition"],"range":["#ff9999","#9999ff","#cccccc"]},"legend":null}
    }},
   {"data":{"name":"lab2"},"mark":{"type":"text","fontSize":63,"fontWeight":"bold","lineBreak":"\n","lineHeight":78,"align":"center","baseline":"top","dx":7,"color":"black"},
    "encoding":{
     "x":{"field":"cat","type":"nominal","axis":{"orient":"top","labels":false,"title":null}},
     "y":{"field":"f","type":"quantitative","axis":{"orient":"left","values":[0,0.15,0.3,0.45,0.6,0.75],"labels":false,"title":null}},
     "text":{"field":"t"}
    }},
   {"data":{"name":"days2"},"mark":{"type":"text","fontSize":27,"align":"right","baseline":"middle","dx":127,"color":"black"},
    "encoding":{
     "x":{"field":"cat","type":"nominal","axis":null},
     "y":{"field":"f","type":"quantitative","axis":null},
     "text":{"field":"t"}
    }}
  ],
  "resolve":{"axis":{"x":"independent","y":"independent"}}},
 {"width":538,"height":537,
  "layer":[
   {"data":{"name":"rain3"},"mark":{"type":"rect","strokeWidth":1},
    "encoding":{
     "x":{"field":"a","type":"quantitative","scale":{"domain":[-135,393],"nice":false,"zero":false},"axis":{"orient":"bottom","values":[-100,0,100,200,300],"labels":false,"title":null}},
     "x2":{"field":"b"},
     "y":{"field":"c","type":"quantitative","scale":{"domain":[0,26.4],"nice":false,"zero":false},"axis":{"orient":"left","values":[0,3,6,9,12,15,18,21,24],"title":"HI [°C]","titleFontSize":38,"titlePadding":15}},
     "y2":{"field":"d"},
     "color":{"field":"v","type":"quantitative","scale":{"domain":[-0.04,0.875,2.625,4.375,6.125,7],"range":["#800000","#ff0000","#ffff00","#00ffff","#0000ff","#000080"],"interpolate":"rgb"},"legend":null},
     "stroke":{"field":"v","type":"quantitative","scale":{"domain":[-0.04,0.875,2.625,4.375,6.125,7],"range":["#800000","#ff0000","#ffff00","#00ffff","#0000ff","#000080"],"interpolate":"rgb"},"legend":null}
    }},
   {"data":{"name":"boxes"},"mark":{"type":"rect","opacity":0},
    "encoding":{
     "x":{"field":"a","type":"quantitative","axis":{"orient":"top","values":[-100,0,100,200,300],"labels":false,"title":null}},
     "x2":{"field":"b"},
     "y":{"field":"c","type":"quantitative","axis":{"orient":"right","values":[0,3,6,9,12,15,18,21,24],"labels":false,"title":null}},
     "y2":{"field":"d"}
    }}
  ],
  "resolve":{"axis":{"x":"independent","y":"independent"}}},
 {"width":538,"height":537,
  "layer":[
   {"data":{"name":"reg3"},"mark":{"type":"rect","strokeWidth":1},
    "encoding":{
     "x":{"field":"a","type":"quantitative","scale":{"domain":[-135,393],"nice":false,"zero":false},"axis":{"orient":"bottom","values":[-100,0,100,200,300],"labels":false,"title":null}},
     "x2":{"field":"b"},
     "y":{"field":"c","type":"quantitative","scale":{"domain":[0,26.4],"nice":false,"zero":false},"axis":{"orient":"left","values":[0,3,6,9,12,15,18,21,24],"labels":false,"title":null}},
     "y2":{"field":"d"},
     "color":{"field":"r","type":"nominal","scale":{"domain":["Dry Soil Dis","Wet Soil Adv","Transition"],"range":["#ff9999","#9999ff","#cccccc"]},"legend":null},
     "stroke":{"field":"r","type":"nominal","scale":{"domain":["Dry Soil Dis","Wet Soil Adv","Transition"],"range":["#ff9999","#9999ff","#cccccc"]},"legend":null}
    }},
   {"data":{"name":"boxes"},"mark":{"type":"rect","filled":false,"strokeWidth":4.5,"strokeDash":[12,6]},
    "encoding":{
     "x":{"field":"a","type":"quantitative","axis":{"orient":"top","values":[-100,0,100,200,300],"labels":false,"title":null}},
     "x2":{"field":"b"},
     "y":{"field":"c","type":"quantitative","axis":{"orient":"right","values":[0,3,6,9,12,15,18,21,24],"labels":false,"title":null}},
     "y2":{"field":"d"},
     "stroke":{"field":"r","type":"nominal","scale":{"domain":["Dry Soil Dis","Wet Soil Adv","Transition"],"range":["#ff0000","#0000ff","#00ff00"]},"legend":null}
    }}
  ],
  "resolve":{"scale":{"stroke":"independent"},"axis":{"x":"independent","y":"independent"}}},
 {"width":541,"height":537,
  "layer":[
   {"data":{"name":"bars3"},"mark":{"type":"bar","stroke":"#222222","strokeWidth":1.5},
    "encoding":{
     "x":{"field":"cat","type":"nominal","scale":{"domain":["Dry Soil Dis","Wet Soil Adv","Transition"],"paddingInner":0.2,"paddingOuter":0.6},"axis":{"orient":"bottom","labels":false,"title":null}},
     "y":{"field":"f","type":"quantitative","scale":{"domain":[0,0.8],"nice":false,"zero":true},"axis":{"orient":"right","values":[0,0.15,0.3,0.45,0.6,0.75],"format":".2~f","title":"Event Frequency","titleAngle":270,"titlePadding":51,"labelPadding":16}},
     "color":{"field":"cat","type":"nominal","scale":{"domain":["Dry Soil Dis","Wet Soil Adv","Transition"],"range":["#ff9999","#9999ff","#cccccc"]},"legend":null}
    }},
   {"data":{"name":"lab3"},"mark":{"type":"text","fontSize":63,"fontWeight":"bold","lineBreak":"\n","lineHeight":78,"align":"center","baseline":"top","dx":7,"color":"black"},
    "encoding":{
     "x":{"field":"cat","type":"nominal","axis":{"orient":"top","labels":false,"title":null}},
     "y":{"field":"f","type":"quantitative","axis":{"orient":"left","values":[0,0.15,0.3,0.45,0.6,0.75],"labels":false,"title":null}},
     "text":{"field":"t"}
    }},
   {"data":{"name":"days3"},"mark":{"type":"text","fontSize":27,"align":"right","baseline":"middle","dx":127,"color":"black"},
    "encoding":{
     "x":{"field":"cat","type":"nominal","axis":null},
     "y":{"field":"f","type":"quantitative","axis":null},
     "text":{"field":"t"}
    }}
  ],
  "resolve":{"axis":{"x":"independent","y":"independent"}}},
 {"width":538,"height":537,
  "layer":[
   {"data":{"name":"rain4"},"mark":{"type":"rect","strokeWidth":1},
    "encoding":{
     "x":{"field":"a","type":"quantitative","scale":{"domain":[-135,393],"nice":false,"zero":false},"axis":{"orient":"bottom","values":[-100,0,100,200,300],"labelExpr":"''+datum.value","title":"CTP [J/kg]","titlePadding":4}},
     "x2":{"field":"b"},
     "y":{"field":"c","type":"quantitative","scale":{"domain":[0,26.4],"nice":false,"zero":false},"axis":{"orient":"left","values":[0,3,6,9,12,15,18,21,24],"title":"HI [°C]","titleFontSize":38,"titlePadding":15}},
     "y2":{"field":"d"},
     "color":{"field":"v","type":"quantitative","scale":{"domain":[-0.04,0.875,2.625,4.375,6.125,7],"range":["#800000","#ff0000","#ffff00","#00ffff","#0000ff","#000080"],"interpolate":"rgb"},"legend":null},
     "stroke":{"field":"v","type":"quantitative","scale":{"domain":[-0.04,0.875,2.625,4.375,6.125,7],"range":["#800000","#ff0000","#ffff00","#00ffff","#0000ff","#000080"],"interpolate":"rgb"},"legend":null}
    }},
   {"data":{"name":"boxes"},"mark":{"type":"rect","opacity":0},
    "encoding":{
     "x":{"field":"a","type":"quantitative","axis":{"orient":"top","values":[-100,0,100,200,300],"labels":false,"title":null}},
     "x2":{"field":"b"},
     "y":{"field":"c","type":"quantitative","axis":{"orient":"right","values":[0,3,6,9,12,15,18,21,24],"labels":false,"title":null}},
     "y2":{"field":"d"}
    }}
  ],
  "resolve":{"axis":{"x":"independent","y":"independent"}}},
 {"width":538,"height":537,
  "layer":[
   {"data":{"name":"reg4"},"mark":{"type":"rect","strokeWidth":1},
    "encoding":{
     "x":{"field":"a","type":"quantitative","scale":{"domain":[-135,393],"nice":false,"zero":false},"axis":{"orient":"bottom","values":[-100,0,100,200,300],"labelExpr":"''+datum.value","title":"CTP [J/kg]","titlePadding":4}},
     "x2":{"field":"b"},
     "y":{"field":"c","type":"quantitative","scale":{"domain":[0,26.4],"nice":false,"zero":false},"axis":{"orient":"left","values":[0,3,6,9,12,15,18,21,24],"labels":false,"title":null}},
     "y2":{"field":"d"},
     "color":{"field":"r","type":"nominal","scale":{"domain":["Dry Soil Dis","Wet Soil Adv","Transition"],"range":["#ff9999","#9999ff","#cccccc"]},"legend":null},
     "stroke":{"field":"r","type":"nominal","scale":{"domain":["Dry Soil Dis","Wet Soil Adv","Transition"],"range":["#ff9999","#9999ff","#cccccc"]},"legend":null}
    }},
   {"data":{"name":"boxes"},"mark":{"type":"rect","filled":false,"strokeWidth":4.5,"strokeDash":[12,6]},
    "encoding":{
     "x":{"field":"a","type":"quantitative","axis":{"orient":"top","values":[-100,0,100,200,300],"labels":false,"title":null}},
     "x2":{"field":"b"},
     "y":{"field":"c","type":"quantitative","axis":{"orient":"right","values":[0,3,6,9,12,15,18,21,24],"labels":false,"title":null}},
     "y2":{"field":"d"},
     "stroke":{"field":"r","type":"nominal","scale":{"domain":["Dry Soil Dis","Wet Soil Adv","Transition"],"range":["#ff0000","#0000ff","#00ff00"]},"legend":null}
    }}
  ],
  "resolve":{"scale":{"stroke":"independent"},"axis":{"x":"independent","y":"independent"}}},
 {"width":541,"height":537,
  "layer":[
   {"data":{"name":"bars4"},"mark":{"type":"bar","stroke":"#222222","strokeWidth":1.5},
    "encoding":{
     "x":{"field":"cat","type":"nominal","scale":{"domain":["Dry Soil Dis","Wet Soil Adv","Transition"],"paddingInner":0.2,"paddingOuter":0.6},"axis":{"orient":"bottom","labelAngle":-40,"labelAlign":"right","labelBaseline":"top","labelPadding":12,"title":null}},
     "y":{"field":"f","type":"quantitative","scale":{"domain":[0,0.8],"nice":false,"zero":true},"axis":{"orient":"right","values":[0,0.15,0.3,0.45,0.6,0.75],"format":".2~f","title":"Event Frequency","titleAngle":270,"titlePadding":51,"labelPadding":16}},
     "color":{"field":"cat","type":"nominal","scale":{"domain":["Dry Soil Dis","Wet Soil Adv","Transition"],"range":["#ff9999","#9999ff","#cccccc"]},"legend":null}
    }},
   {"data":{"name":"lab4"},"mark":{"type":"text","fontSize":63,"fontWeight":"bold","lineBreak":"\n","lineHeight":78,"align":"center","baseline":"top","dx":7,"color":"black"},
    "encoding":{
     "x":{"field":"cat","type":"nominal","axis":{"orient":"top","labels":false,"title":null}},
     "y":{"field":"f","type":"quantitative","axis":{"orient":"left","values":[0,0.15,0.3,0.45,0.6,0.75],"labels":false,"title":null}},
     "text":{"field":"t"}
    }},
   {"data":{"name":"days4"},"mark":{"type":"text","fontSize":27,"align":"right","baseline":"middle","dx":127,"color":"black"},
    "encoding":{
     "x":{"field":"cat","type":"nominal","axis":null},
     "y":{"field":"f","type":"quantitative","axis":null},
     "text":{"field":"t"}
    }}
  ],
  "resolve":{"axis":{"x":"independent","y":"independent"}}}
]
}
